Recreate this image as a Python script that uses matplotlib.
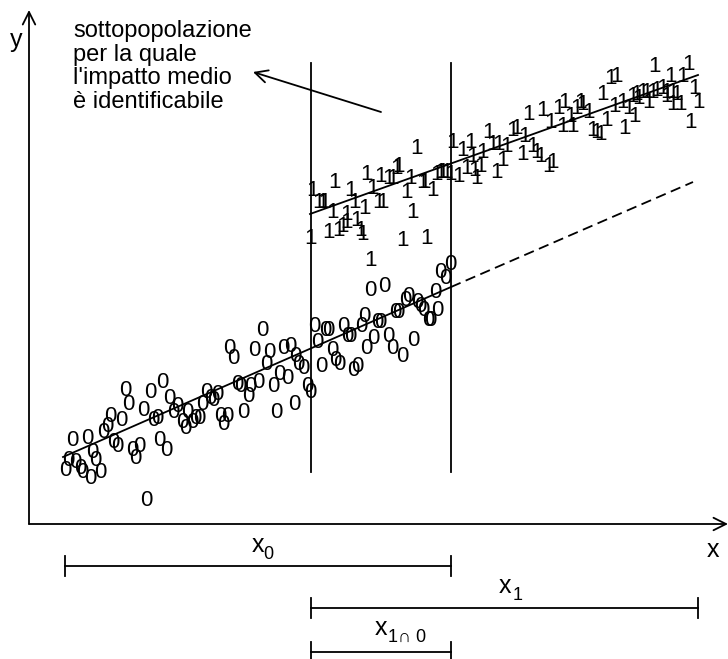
import matplotlib
matplotlib.use("Agg")
import matplotlib.pyplot as plt
import numpy as np

plt.rcParams['font.family'] = ['Liberation Sans', 'DejaVu Sans']
plt.rcParams['lines.scale_dashes'] = False

# ---- data (schematic units, origin at axes crossing) ----
x_untreated = [96, 121, 133, 99, 114, 140, 148, 144, 158, 153, 156, 163, 166, 170, 173, 177, 181, 184, 188,
               81, 78, 74, 92, 43, 58, 63, 66, 39, 46, 36, 51, 53, 61, 71, 84, 88, 103, 110, 106, 124, 128,
               130, 137, 117,
               341, 355, 421, 411, 416, 406, 379, 376, 388, 391, 394, 408, 399, 401, 366, 369, 348, 351, 335,
               332, 314, 318, 321, 296, 299, 285, 288, 344, 337, 359, 363, 373, 384, 303, 306, 310, 292, 324,
               328, 278, 281, 266, 269, 274, 261, 254, 240, 237, 225, 233, 200, 204, 250, 258, 229, 244, 221,
               219, 208, 211, 265, 247, 214, 191, 198, 194]
y_untreated = [134, 132, 141, 119, 114, 126, 117, 112, 112, 102, 96, 102, 106, 106, 119, 131, 126, 124, 129,
               107, 98, 91, 103, 83, 85, 71, 64, 64, 61, 54, 56, 52, 46, 51, 81, 77, 74, 78, 66, 104, 105,
               83, 74, 24,
               234, 238, 259, 251, 245, 231, 227, 224, 222, 217, 214, 213, 204, 204, 211, 211, 202, 201, 207,
               197, 197, 187, 187, 193, 193, 197, 181, 186, 175, 188, 176, 168, 184, 174, 163, 159, 157, 154,
               157, 137, 131, 167, 159, 156, 177, 176, 171, 159, 174, 193, 176, 166, 150, 146, 141, 137, 137,
               127, 139, 137, 119, 111, 111, 108, 108, 99]

x_treated = [388, 306, 338, 351, 359, 363, 368, 369, 284, 289, 293, 296, 321, 344, 349, 354, 381, 378, 393,
             395, 403, 408, 411, 414, 418, 421, 429, 438, 446, 451, 448, 468, 424, 433, 441, 444, 454, 459,
             463, 469, 303, 318, 326, 336, 299, 309, 313, 318, 328, 331, 333, 384, 281, 373, 398, 341,
             626, 659, 581, 588, 641, 654, 574, 603, 608, 613, 618, 623, 628, 633, 637, 609, 619, 638, 644,
             648, 644, 651, 666, 670, 662, 586, 593, 599, 596, 606, 578, 564, 568, 571, 559, 551, 554, 548,
             536, 529, 541, 543, 533, 514, 500, 521, 483, 488, 496, 478, 473, 493, 503, 508, 511, 519, 524]
y_treated = [375, 342, 349, 347, 346, 346, 356, 357, 334, 322, 321, 321, 334, 336, 322, 321, 346, 332, 342,
             342, 334, 349, 351, 352, 351, 349, 347, 356, 354, 357, 346, 352, 382, 374, 381, 367, 371, 391,
             379, 379, 311, 309, 321, 316, 292, 294, 297, 301, 304, 294, 289, 311, 286, 284, 286, 264,
             458, 459, 446, 447, 448, 448, 429, 427, 429, 431, 431, 432, 434, 436, 432, 426, 421, 427, 431,
             429, 419, 419, 436, 422, 402, 417, 421, 416, 396, 407, 404, 394, 392, 389, 412, 422, 419, 416,
             421, 416, 407, 397, 397, 414, 409, 401, 394, 396, 387, 377, 364, 369, 377, 372, 367, 357, 361]

fit0_x = [34, 422]
fit0_y = [67, 237]
extrap0_x = [422, 664]
extrap0_y = [237, 342]
fit1_x = [281, 669]
fit1_y = [310, 449]

support_bounds = [282, 422]
support_ylim = [52, 461]

bar_main = ['x', 'x', 'x']
bar_sub = ['0', '1', '1∩ 0']
bar_start = [36, 282, 282]
bar_end = [422, 669, 422]
bar_level = [-42, -84, -128]
label_x = [223, 470, 346]
label_y = [-28, -69, -111]
sub_x = [234, 484, 359]
sub_y = [-35, -76, -118]

note_lines = ['sottopopolazione', 'per la quale', "l'impatto medio", 'è identificabile']

# ---- figure ----
fig = plt.figure(figsize=(7.28, 6.59), dpi=100)
ax = fig.add_axes([0, 0, 1, 1])
ax.set_xlim(-29, 699)
ax.set_ylim(-135, 524)
ax.axis('off')

lw = 1.3
arrow = '->,head_length=0.9,head_width=0.45'
# axes arrows
ax.annotate('', xy=(0, 514), xytext=(0, 0),
            arrowprops=dict(arrowstyle=arrow, lw=lw, color='black', shrinkA=0, shrinkB=0))
ax.annotate('', xy=(699, 0), xytext=(0, 0),
            arrowprops=dict(arrowstyle=arrow, lw=lw, color='black', shrinkA=0, shrinkB=0))
ax.text(-19, 477, 'y', fontsize=18, ha='left', va='baseline')
ax.text(678, -33, 'x', fontsize=18, ha='left', va='baseline')

# scatter of characters
for xx, yy in zip(x_untreated, y_untreated):
    ax.text(xx, yy, '0', fontsize=16, ha='center', va='center')
for xx, yy in zip(x_treated, y_treated):
    ax.text(xx, yy, '1', fontsize=16, ha='center', va='center')

# regression lines
ax.plot(fit0_x, fit0_y, color='black', lw=lw)
ax.plot(extrap0_x, extrap0_y, color='black', lw=lw, linestyle=(0, (7.5, 4)))
ax.plot(fit1_x, fit1_y, color='black', lw=lw)

# common support boundaries
for b in support_bounds:
    ax.plot([b, b], support_ylim, color='black', lw=lw)

# annotation text and arrow
for i, line in enumerate(note_lines):
    ax.text(44, 487 - 23.7 * i, line, fontsize=17, ha='left', va='baseline')
ax.annotate('', xy=(224, 452), xytext=(352, 412),
            arrowprops=dict(arrowstyle=arrow, lw=lw, color='black', shrinkA=0, shrinkB=0))

# support bars
for m, s_, s, e, lev, lx, ly, sx, sy in zip(bar_main, bar_sub, bar_start, bar_end, bar_level,
                                             label_x, label_y, sub_x, sub_y):
    ax.plot([s, e], [lev, lev], color='black', lw=lw)
    ax.plot([s, s], [lev - 10, lev + 10], color='black', lw=lw)
    ax.plot([e, e], [lev - 10, lev + 10], color='black', lw=lw)
    ax.text(lx, ly, m, fontsize=18, ha='left', va='baseline')
    ax.text(sx, sy, s_, fontsize=13, ha='left', va='baseline')

fig.savefig('out.png', dpi=100)
